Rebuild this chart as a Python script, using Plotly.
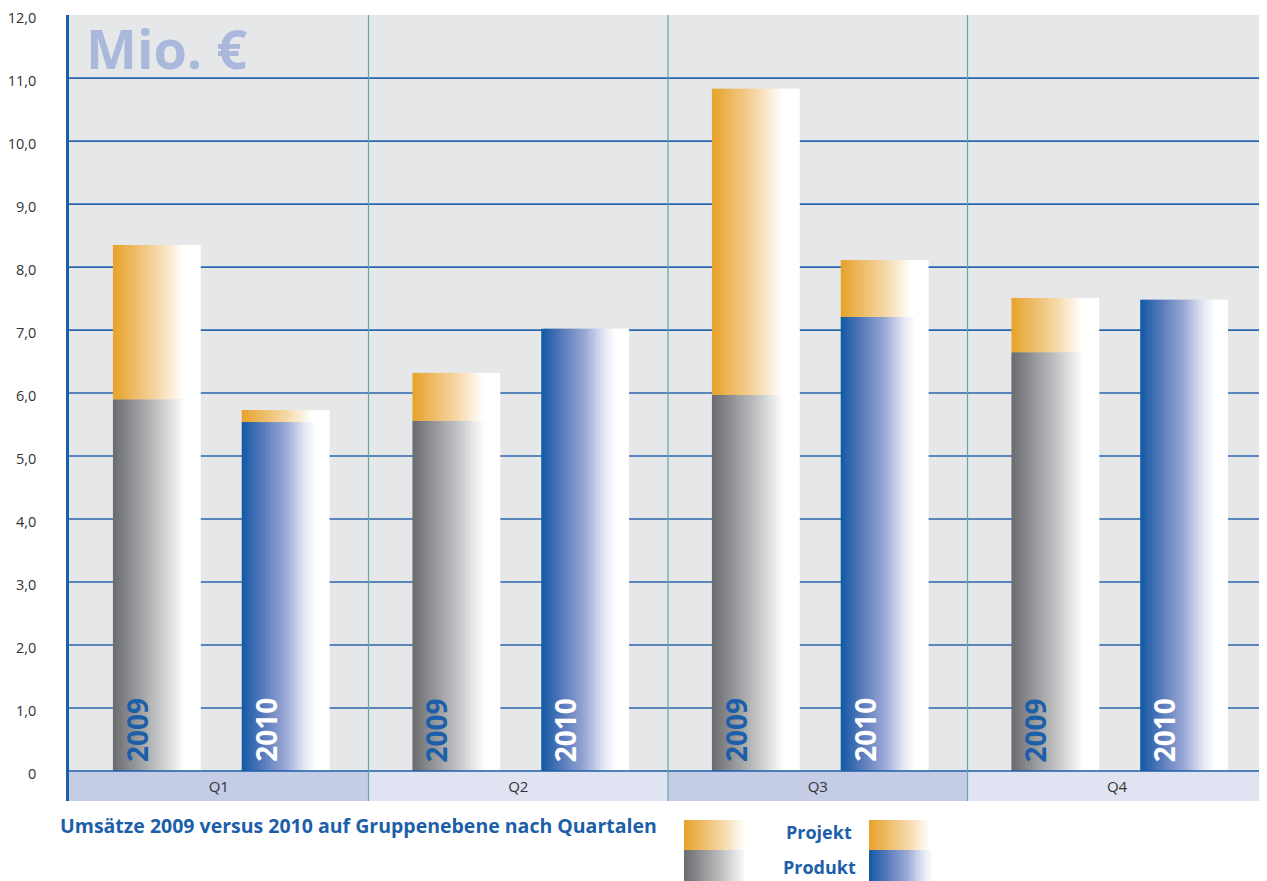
import plotly.graph_objects as go

# ---------------- data ----------------
quarters = ["Q1", "Q2", "Q3", "Q4"]
produkt_2009 = [5.90, 5.56, 5.97, 6.65]
projekt_2009 = [2.45, 0.76, 4.86, 0.86]
produkt_2010 = [5.54, 7.02, 7.21, 7.48]
projekt_2010 = [0.19, 0.00, 0.90, 0.00]
years = ["2009", "2010"]
y_tickvals = [0, 1, 2, 3, 4, 5, 6, 7, 8, 9, 10, 11, 12]
y_ticktext = ["0", "1,0", "2,0", "3,0", "4,0", "5,0", "6,0", "7,0", "8,0", "9,0", "10,0", "11,0", "12,0"]
legend_labels = ["Projekt", "Produkt"]
unit_label = "Mio. €"
title_text = "Umsätze 2009 versus 2010 auf Gruppenebene nach Quartalen"

# ---------------- style ----------------
PAGE_OFF = 8                      # default page body margin
FIG_W, FIG_H = 1267 - PAGE_OFF, 881 - PAGE_OFF
ML, MR, MT, MB = 69 - PAGE_OFF, 0, 15 - PAGE_OFF, 80
PLOT_W = FIG_W - ML - MR
PLOT_H = FIG_H - MT - MB
BAND = 0.476
Y_TOP = 12.002
BAR_W = 88 / 300
OFF = {"2009": -106 / 300, "2010": 23 / 300}
NSTRIP = 30
BLUE = "#1c5fa8"

STOPS = {
    "orange": [(0, (231, 162, 42)), (0.5, (245, 215, 165)), (0.8, (255, 255, 255)), (1, (255, 255, 255))],
    "grey": [(0, (106, 107, 110)), (0.5, (192, 193, 195)), (0.82, (255, 255, 255)), (1, (255, 255, 255))],
    "blue": [(0, (18, 89, 166)), (0.25, (90, 124, 188)), (0.5, (154, 168, 213)), (0.72, (229, 233, 245)),
             (0.85, (255, 255, 255)), (1, (255, 255, 255))],
}


def grad(name, t):
    st = STOPS[name]
    for (t0, c0), (t1, c1) in zip(st[:-1], st[1:]):
        if t0 <= t <= t1:
            f = (t - t0) / (t1 - t0) if t1 > t0 else 0
            c = [round(a + (b - a) * f) for a, b in zip(c0, c1)]
            return "rgb(%d,%d,%d)" % tuple(c)
    return "rgb(255,255,255)"


fig = go.Figure()

# category band below the zero line
fig.add_trace(go.Bar(
    x=quarters, y=[BAND] * len(quarters), base=[-BAND] * len(quarters), width=1,
    marker=dict(color=["#c5cce6" if i % 2 == 0 else "#e0e4f2" for i in range(len(quarters))],
                line=dict(width=0)),
    text=quarters, textposition="inside", insidetextanchor="middle",
    textfont=dict(family="Open Sans", size=15, color="#333333"), textangle=0,
    hoverinfo="skip", showlegend=False,
))

series = [
    ("2009", produkt_2009, [0] * 4, "grey"),
    ("2009", projekt_2009, produkt_2009, "orange"),
    ("2010", produkt_2010, [0] * 4, "blue"),
    ("2010", projekt_2010, produkt_2010, "orange"),
]
sw = BAR_W / NSTRIP
for year, vals, base, cname in series:
    for i in range(NSTRIP):
        w = sw * (1.6 if i < NSTRIP - 1 else 1.0)
        fig.add_trace(go.Bar(
            x=quarters, y=vals, base=base, width=w, offset=OFF[year] + i * sw,
            marker=dict(color=grad(cname, (i + 0.5) / NSTRIP), line=dict(width=0)),
            hoverinfo="skip", showlegend=False,
        ))

shapes = []
# horizontal grid lines
for v in y_tickvals[1:-1]:
    shapes.append(dict(type="line", xref="paper", yref="y", x0=0, x1=1, y0=v, y1=v,
                       line=dict(color="#2a66ae", width=1.6), layer="below"))
# zero line
shapes.append(dict(type="line", xref="paper", yref="y", x0=0, x1=1, y0=0, y1=0,
                   line=dict(color=BLUE, width=1.6), layer="above"))
# vertical separators
for k in range(1, len(quarters)):
    shapes.append(dict(type="line", xref="x", yref="y", x0=k - 0.5, x1=k - 0.5, y0=-BAND, y1=Y_TOP,
                       line=dict(color="#5fa9a7", width=1.2), layer="above"))


def px(x):
    return (x - PAGE_OFF - ML) / PLOT_W


def py(y):
    return (FIG_H - MB - (y - PAGE_OFF)) / PLOT_H


# legend swatches (gradients)
def swatch(x0, x1, y0, y1, cname, n=24):
    s = (x1 - x0) / n
    for i in range(n):
        shapes.append(dict(type="rect", xref="paper", yref="paper",
                           x0=px(x0 + i * s), x1=px(x0 + (i + 1) * s + (0.8 if i < n - 1 else 0)),
                           y0=py(y1), y1=py(y0), line=dict(width=0),
                           fillcolor=grad(cname, (i + 0.5) / n), layer="above"))


swatch(684, 760, 820, 850, "orange")
swatch(684, 760, 850, 881, "grey")
swatch(869, 945, 820, 850, "orange")
swatch(869, 945, 850, 881, "blue")

annotations = []
# year labels inside bars
for qi in range(len(quarters)):
    for year in years:
        annotations.append(dict(
            x=qi + OFF[year] + 24 / 300, y=0, xref="x", yref="y",
            text="<b>" + year + "</b>", textangle=-90, showarrow=False,
            xanchor="center", yanchor="bottom", yshift=7,
            font=dict(family="Open Sans", size=28, color=BLUE if year == "2009" else "white"),
        ))
# unit watermark
annotations.append(dict(x=px(84), y=py(9), xref="paper", yref="paper", text="<b>" + unit_label + "</b>",
                        showarrow=False, xanchor="left", yanchor="top",
                        font=dict(family="Open Sans", size=54, color="#aab8dc")))
# title
annotations.append(dict(x=px(58), y=py(825), xref="paper", yref="paper", text="<b>" + title_text + "</b>",
                        showarrow=False, xanchor="left", yanchor="middle",
                        font=dict(family="Open Sans", size=19.5, color=BLUE)))
# legend labels
for lab, yy in zip(legend_labels, [832, 867]):
    annotations.append(dict(x=px(819), y=py(yy), xref="paper", yref="paper", text="<b>" + lab + "</b>",
                            showarrow=False, xanchor="center", yanchor="middle",
                            font=dict(family="Open Sans", size=18, color=BLUE)))

fig.update_layout(
    width=FIG_W, height=FIG_H,
    margin=dict(l=ML, r=MR, t=MT, b=MB, pad=0, autoexpand=False),
    barmode="overlay",
    paper_bgcolor="white", plot_bgcolor="#e6e7e9",
    shapes=shapes, annotations=annotations,
    xaxis=dict(type="category", range=[-0.5, len(quarters) - 0.5], showgrid=False, showticklabels=False,
               zeroline=False, showline=False, fixedrange=True, automargin=False),
    yaxis=dict(range=[-BAND, Y_TOP], tickvals=y_tickvals, ticktext=y_ticktext, showgrid=False, zeroline=False,
               showline=True, linecolor=BLUE, linewidth=2.5, ticks="", ticklabelstandoff=27,
               ticklabeloverflow="allow", automargin=False, ticklabelshift=3,
               tickfont=dict(family="Open Sans", size=14.5, color="#333333"), fixedrange=True),
    font=dict(family="Open Sans"),
    showlegend=False,
)

fig.write_html("out.html", config={"displayModeBar": False})
